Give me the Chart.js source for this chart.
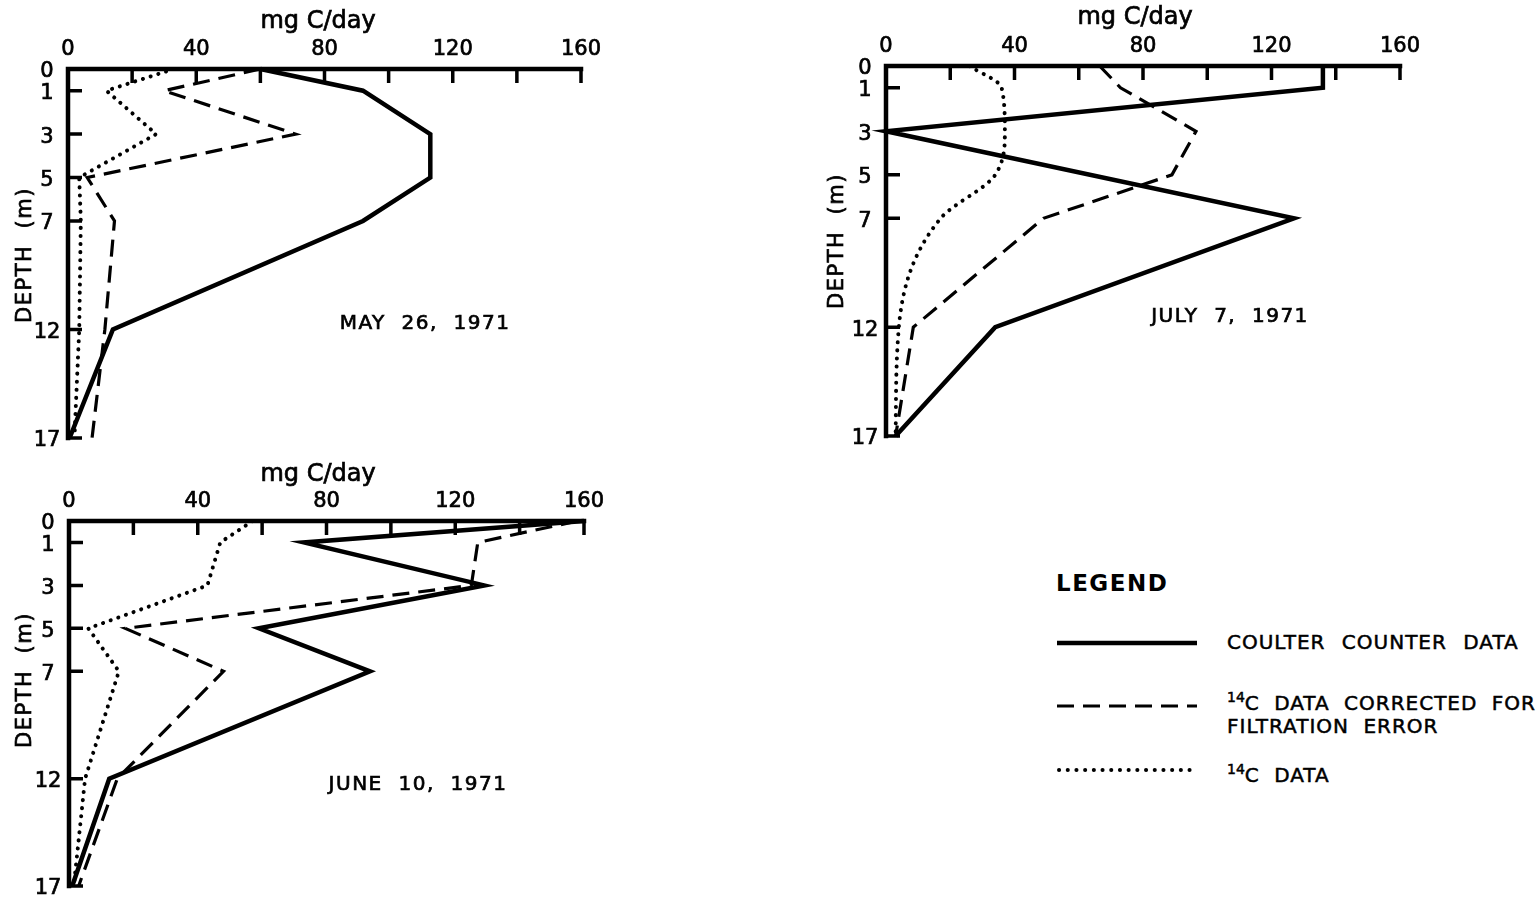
<!DOCTYPE html>
<html>
<head>
<meta charset="utf-8">
<script src="https://cdn.jsdelivr.net/npm/chart.js@4/dist/chart.umd.min.js"></script>
<style>
  body { margin: 0; background: #fff; width: 1536px; height: 902px; position: relative; overflow: hidden; }
  canvas { position: absolute; }
  .lg { position: absolute; font-family: "DejaVu Sans", sans-serif; color: #000; white-space: nowrap; }
  .lg-text { font-size: 20px; letter-spacing: 1px; word-spacing: 7px; line-height: 23px; -webkit-text-stroke: 0.5px #000; }
  .lg-text sup { font-size: 14px; letter-spacing: 0; vertical-align: 8px; }
</style>
</head>
<body>
<canvas id="may"></canvas>
<canvas id="july"></canvas>
<canvas id="june"></canvas>

<div class="lg" style="left:1056px; top:570px; font-size:23px; font-weight:bold; letter-spacing:1.5px;">LEGEND</div>
<svg class="lg" style="left:1050px; top:630px;" width="160" height="160">
  <line x1="7" y1="13" x2="147" y2="13" stroke="#000" stroke-width="4.5" />
  <line x1="7" y1="76" x2="147" y2="76" stroke="#000" stroke-width="3.2" stroke-dasharray="17 9" />
  <line x1="9" y1="140" x2="147" y2="140" stroke="#000" stroke-width="4" stroke-linecap="round" stroke-dasharray="0.1 8.6" />
</svg>
<div class="lg lg-text" style="left:1227px; top:631px; word-spacing:9px;">COULTER COUNTER DATA</div>
<div class="lg lg-text" style="left:1227px; top:686px;"><sup>14</sup>C DATA CORRECTED FOR<br>FILTRATION ERROR</div>
<div class="lg lg-text" style="left:1227px; top:758px;"><sup>14</sup>C DATA</div>

<script>
// sampling depths (m) and axis ticks
const depths = [0, 1, 3, 5, 7, 12, 17];
const depthTicks = [0, 1, 3, 5, 7, 12, 17];
const rateTicks = [0, 20, 40, 60, 80, 100, 120, 140, 160];
const rateLabels = [0, 40, 80, 120, 160];

// MAY 26, 1971  (mg C/day)
const coulterMay = [60, 92, 113, 113, 92, 14, 0.5];
const correctedMay = [60, 30, 71, 6, 14.5, 11.5, 7.5];
const c14May = [33, 12, 27.5, 3.5, 4, 3.5, 2];

// JULY 7, 1971
const coulterJuly = [136, 136, 0, null, 127, 34, 3]; // no point drawn at 5 m
const correctedJuly = [66.5, 73, 96.5, 89, 49, 8.5, 3];
const c14July = [26, 36, 37, 34, 17, 4, 3];

// JUNE 10, 1971
const coulterJune = [160, 73, 129, 59, 93.5, 12.5, 1];
const correctedJune = [158, 127, 125, 17.5, 48, 15, 3];
const c14June = [57, 47, 43, 6, 15.5, 5, 1.5];

const FONT = '"DejaVu Sans", sans-serif';
const PAD = { left: 70, top: 70, right: 25, bottom: 30 };

function drawText(ctx, str, x, y) {
  ctx.fillText(str, x, y);
  ctx.strokeText(str, x, y); // thicker strokes, like the lettering guide
}

// axis frame, inward ticks and all panel text, placed through the chart scales
const framePlugin = {
  id: 'frame',
  beforeDatasetsDraw(chart, args, opts) {
    const { ctx, chartArea: a, scales: { x, y } } = chart;
    const left = x.getPixelForValue(0);
    const top = y.getPixelForValue(0);
    ctx.save();
    ctx.strokeStyle = '#000';
    ctx.fillStyle = '#000';
    ctx.lineCap = 'square';
    ctx.lineWidth = 4.5;
    ctx.beginPath();
    ctx.moveTo(x.getPixelForValue(160), top);
    ctx.lineTo(left, top);
    ctx.lineTo(left, y.getPixelForValue(17));
    ctx.stroke();

    ctx.lineCap = 'butt';
    ctx.lineWidth = 3.5;
    ctx.beginPath();
    rateTicks.forEach((v) => {
      if (v === 0) return;
      const px = x.getPixelForValue(v);
      ctx.moveTo(px, top);
      ctx.lineTo(px, top + 14);
    });
    depthTicks.forEach((d) => {
      if (d === 0) return;
      const py = y.getPixelForValue(d);
      ctx.moveTo(left, py);
      ctx.lineTo(left + 14, py);
    });
    ctx.stroke();

    ctx.lineWidth = 0.7;
    ctx.font = '21px ' + FONT;
    ctx.textAlign = 'center';
    ctx.textBaseline = 'middle';
    rateLabels.forEach((v) => {
      drawText(ctx, String(v), x.getPixelForValue(v), top - 19);
    });
    depthTicks.forEach((d) => {
      drawText(ctx, String(d), left - 21, y.getPixelForValue(d) + 3);
    });

    ctx.font = '24px ' + FONT;
    drawText(ctx, 'mg C/day', a.left + opts.title[0], a.top + opts.title[1]);

    ctx.font = '20px ' + FONT;
    ctx.letterSpacing = '1.5px';
    drawText(ctx, opts.date, a.left + opts.datePos[0], a.top + opts.datePos[1]);

    ctx.save();
    ctx.translate(a.left + opts.depthPos[0], a.top + opts.depthPos[1]);
    ctx.rotate(-Math.PI / 2);
    ctx.font = '21px ' + FONT;
    ctx.letterSpacing = '1.5px';
    drawText(ctx, 'DEPTH  (m)', 0, 0);
    ctx.restore();
    ctx.restore();
  },
};

function series(values) {
  return depths
    .map((d, i) => ({ x: values[i], y: d }))
    .filter((p) => p.x !== null);
}

function createProfileChart(id, box, coulter, corrected, c14, text, curvedC14) {
  const canvas = document.getElementById(id);
  canvas.width = box.x1 - box.x0 + PAD.left + PAD.right;
  canvas.height = box.y1 - box.y0 + PAD.top + PAD.bottom;
  canvas.style.left = (box.x0 - PAD.left) + 'px';
  canvas.style.top = (box.y0 - PAD.top) + 'px';

  new Chart(canvas.getContext('2d'), {
    type: 'line',
    data: {
      datasets: [
        {
          label: 'Coulter counter data',
          data: series(coulter),
          borderColor: '#000',
          borderWidth: 4.5,
          borderJoinStyle: 'miter',
        },
        {
          label: '14C data corrected for filtration error',
          data: series(corrected),
          borderColor: '#000',
          borderWidth: 3.2,
          borderDash: [17, 9],
        },
        {
          label: '14C data',
          data: series(c14),
          borderColor: '#000',
          borderWidth: 4,
          borderDash: [0.1, 8],
          borderCapStyle: 'round',
          cubicInterpolationMode: curvedC14 ? 'monotone' : 'default',
        },
      ],
    },
    options: {
      responsive: false,
      animation: false,
      devicePixelRatio: 1,
      indexAxis: 'y',
      layout: { padding: PAD },
      elements: { point: { radius: 0, hoverRadius: 0 } },
      datasets: { line: { clip: false, fill: false } },
      scales: {
        x: { type: 'linear', position: 'top', min: 0, max: 160, display: false },
        y: { type: 'linear', min: 0, max: 17, reverse: true, display: false },
      },
      plugins: {
        legend: { display: false },
        tooltip: { enabled: false },
        frame: text,
      },
    },
    plugins: [framePlugin],
  });
}

createProfileChart('may', { x0: 68, x1: 581, y0: 69, y1: 438 },
  coulterMay, correctedMay, c14May,
  { title: [250, -47], date: 'MAY  26,  1971', datePos: [357, 255], depthPos: [-42, 186] }, false);

createProfileChart('july', { x0: 886, x1: 1400, y0: 66, y1: 436 },
  coulterJuly, correctedJuly, c14July,
  { title: [249, -48], date: 'JULY  7,  1971', datePos: [344, 251], depthPos: [-48, 175] }, true);

createProfileChart('june', { x0: 69, x1: 584, y0: 521, y1: 886 },
  coulterJune, correctedJune, c14June,
  { title: [249, -46], date: 'JUNE  10,  1971', datePos: [349, 264], depthPos: [-43, 159] }, false);
</script>
</body>
</html>
